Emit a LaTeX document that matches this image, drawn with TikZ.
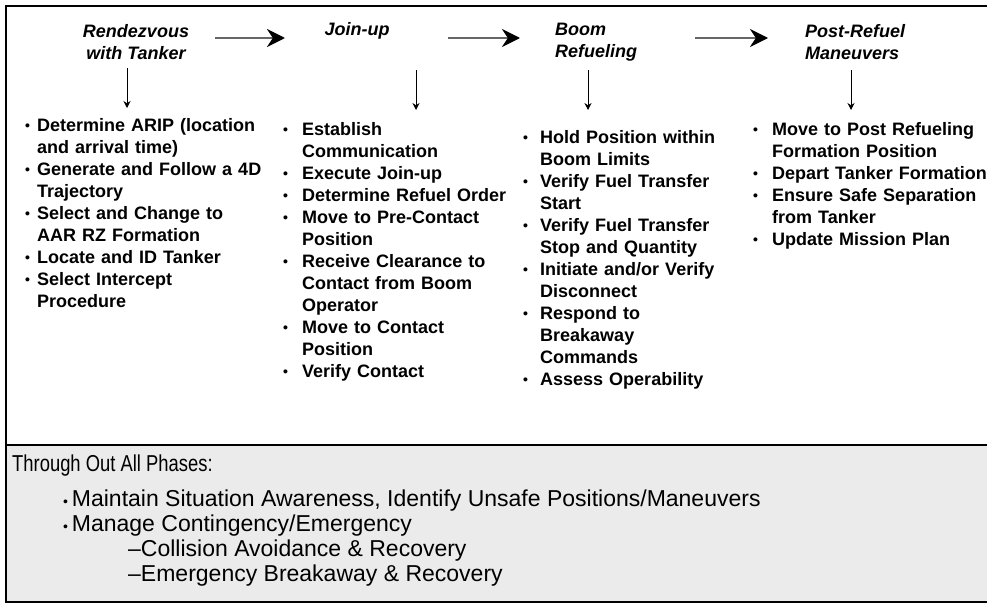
\documentclass[tikz,border=0pt]{standalone}
\usepackage{fontspec}
\setmainfont{Liberation Sans}
\newfontfamily\narrowfont[FakeStretch=0.8]{Liberation Sans}
\usetikzlibrary{arrows.meta,positioning}

\newlength{\tskind}
\newcommand{\dotmark}{\raisebox{0.5pt}{\fontsize{14}{14}\selectfont\textbullet}}
\newcommand{\tsk}{\par\noindent\hangindent=\tskind\hangafter=1\makebox[\tskind][l]{\dotmark}}

\begin{document}
\begin{tikzpicture}[x=1pt,y=-1pt,
  phase/.style={font=\bfseries\itshape\fontsize{18}{22}\selectfont, inner sep=0pt},
  tasklist/.style={anchor=north west, inner sep=0pt, text width=280pt, align=left,
    font=\bfseries\fontsize{18}{22}\selectfont,
    execute at begin node={\setlength{\tskind}{#1}}},
  flow/.style={draw=black!60, line width=2.5pt, -{Stealth[length=18pt,width=18pt,black]}},
  godown/.style={line width=0.8pt, -{Stealth[length=7pt,width=7pt]}},
  allphases/.style={anchor=north west, inner sep=0pt, align=left,
    font=\fontsize{23}{25}\selectfont}]
\useasboundingbox (0,0) rectangle (987,605);

% Frame
\fill[black!8] (6,445) rectangle (987,602);
\draw[line width=1.5pt] (987,6) -- (6,6) -- (6,602) -- (987,602);
\draw[line width=1.5pt] (6,445) -- (987,445);

% Phases
\node[phase, align=center] (rdv) at (136,42) {Rendezvous\\with Tanker};
\node[phase] (join) at (357,31) {Join-up};
\node[phase, align=left, anchor=west] (boom) at (555,42) {Boom\\Refueling};
\node[phase, align=left, anchor=west] (post) at (805,42) {Post-Refuel\\Maneuvers};

% Flow arrows
\foreach \n/\a/\b in {1/215/285, 2/448/520, 3/695/768}{
  \coordinate (h\n a) at (\a,38);
  \coordinate (h\n b) at (\b,38);
  \draw[flow] (h\n a) -- (h\n b);
}

% Down arrows
\foreach \n/\x/\t in {1/127/68, 2/416/70, 3/588/70, 4/851/70}{
  \coordinate (v\n a) at (\x,\t);
  \coordinate (v\n b) at (\x,\t+40);
  \draw[godown] (v\n a) -- (v\n b);
}

% Tasks
\node[tasklist=12pt] (rdvtasks) at (25,109) {%
  \tsk Determine ARIP (location\newline and arrival time)
  \tsk Generate and Follow a 4D\newline Trajectory
  \tsk Select and Change to\newline AAR RZ Formation
  \tsk Locate and ID Tanker
  \tsk Select Intercept\newline Procedure\par};

\node[tasklist=19pt] (jointasks) at (283,113) {%
  \tsk Establish\newline Communication
  \tsk Execute Join-up
  \tsk Determine Refuel Order
  \tsk Move to Pre-Contact\newline Position
  \tsk Receive Clearance to\newline Contact from Boom\newline Operator
  \tsk Move to Contact\newline Position
  \tsk Verify Contact\par};

\node[tasklist=17pt] (boomtasks) at (523,121) {%
  \tsk Hold Position within\newline Boom Limits
  \tsk Verify Fuel Transfer\newline Start
  \tsk Verify Fuel Transfer\newline Stop and Quantity
  \tsk Initiate and/or Verify\newline Disconnect
  \tsk Respond to\newline Breakaway\newline Commands
  \tsk Assess Operability\par};

\node[tasklist=19pt] (posttasks) at (753,113) {%
  \tsk Move to Post Refueling\newline Formation Position
  \tsk Depart Tanker Formation
  \tsk Ensure Safe Separation\newline from Tanker
  \tsk Update Mission Plan\par};

% Through out all phases
\node[allphases] (always) at (12,455) {%
  {\narrowfont\fontsize{23}{25}\selectfont Through Out All Phases:}\\[10pt]
  \hspace*{51pt}\dotmark\,Maintain Situation Awareness, Identify Unsafe Positions/Maneuvers\\
  \hspace*{51pt}\dotmark\,Manage Contingency/Emergency\\
  \hspace*{116pt}\textendash Collision Avoidance \& Recovery\\
  \hspace*{116pt}\textendash Emergency Breakaway \& Recovery};
\end{tikzpicture}
\end{document}
